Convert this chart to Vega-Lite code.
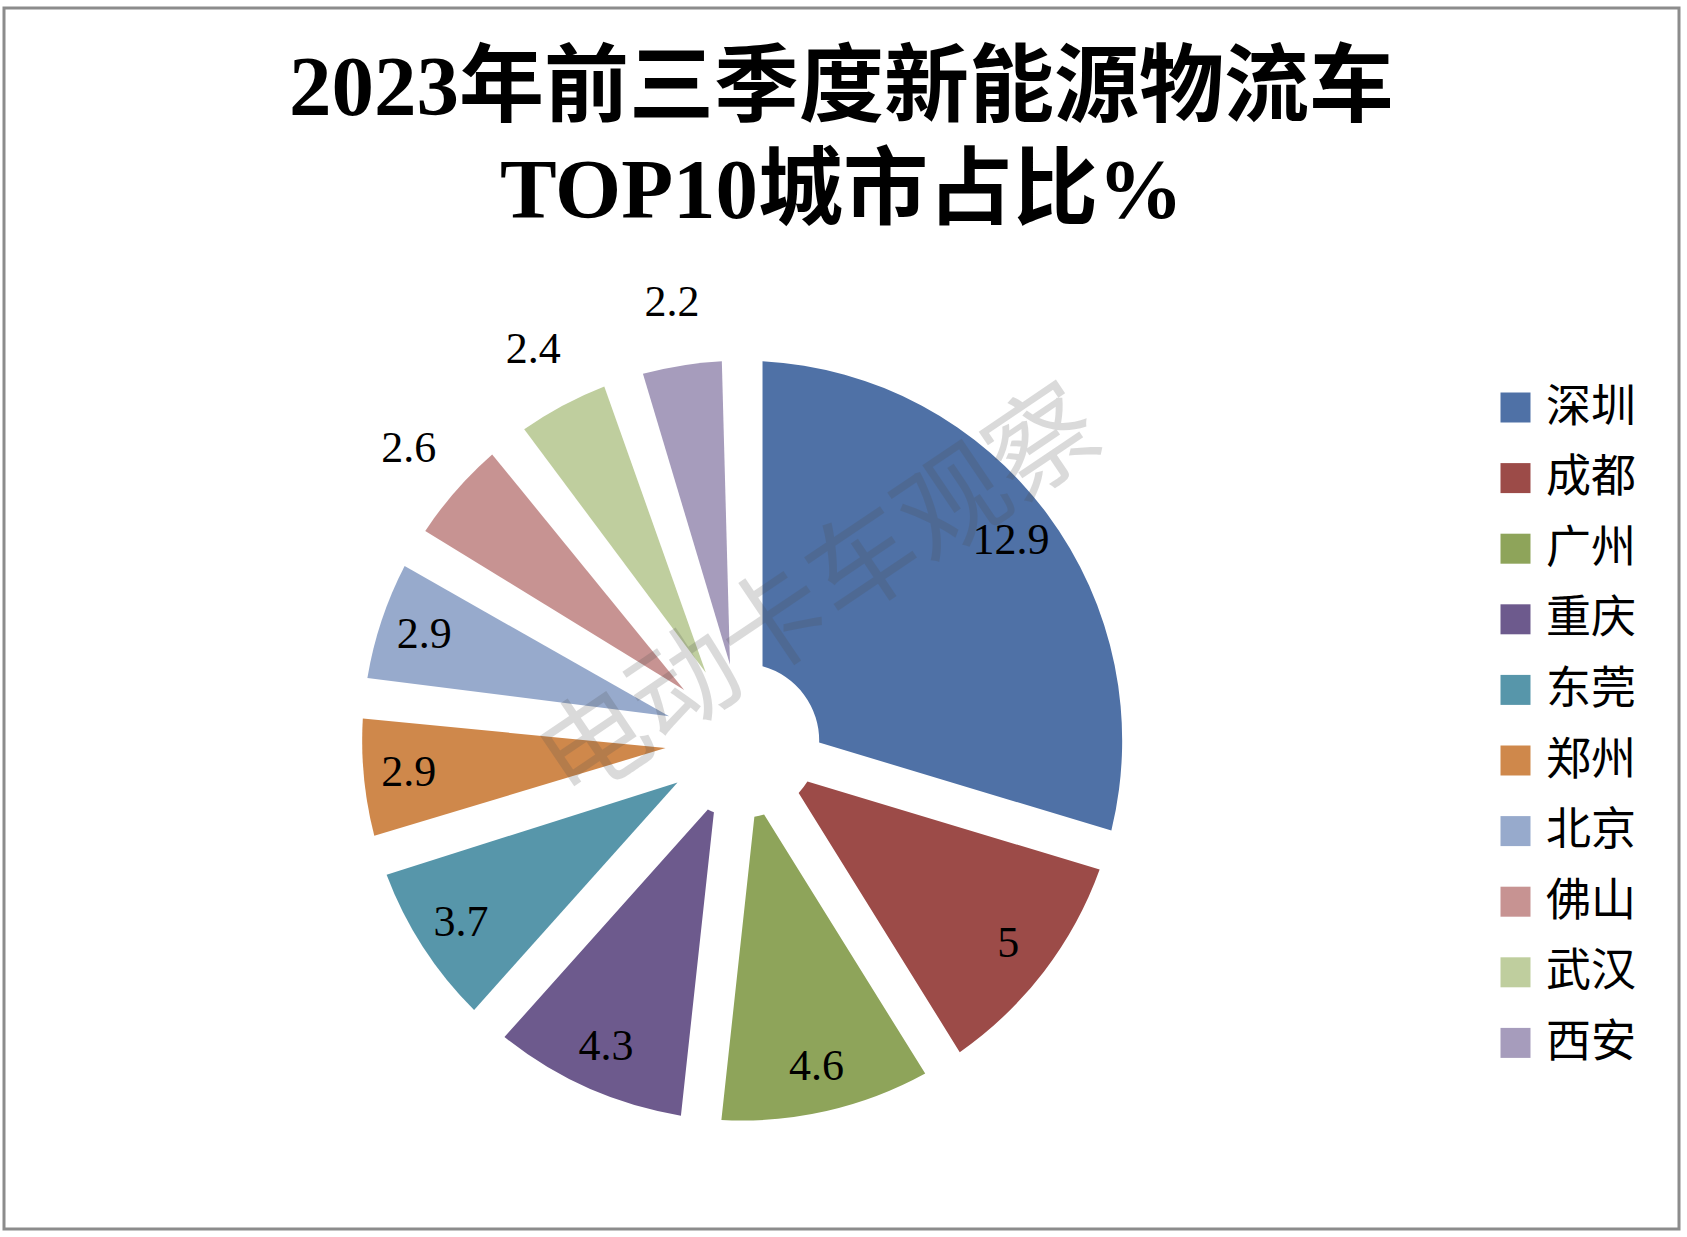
{
  "$schema": "https://vega.github.io/schema/vega-lite/v6.json",
  "width": 1687,
  "height": 1237,
  "autosize": {"type": "fit", "contains": "padding"},
  "padding": {"left": 2, "top": 6, "right": 6, "bottom": 6},
  "background": "white",
  "title": {
    "text": ["2023年前三季度新能源物流车", "TOP10城市占比%"],
    "font": "Liberation Serif, Noto Sans CJK SC",
    "fontSize": 85,
    "fontWeight": "bold",
    "color": "black",
    "lineHeight": 103,
    "anchor": "middle",
    "frame": "group",
    "offset": -229
  },
  "config": {
    "view": {"stroke": null},
    "legend": {
      "orient": "none",
      "legendX": 1489,
      "legendY": 377,
      "padding": 0,
      "symbolType": "square",
      "symbolSize": 900,
      "symbolStrokeWidth": 0,
      "labelFont": "Noto Sans CJK SC",
      "labelFontSize": 45,
      "labelColor": "black",
      "labelOffset": 8,
      "labelLimit": 0,
      "rowPadding": 24.6
    }
  },
  "data": {
    "values": [
      {"city": "深圳", "v": 12.9, "i": 1},
      {"city": "成都", "v": 5, "i": 2},
      {"city": "广州", "v": 4.6, "i": 3},
      {"city": "重庆", "v": 4.3, "i": 4},
      {"city": "东莞", "v": 3.7, "i": 5},
      {"city": "郑州", "v": 2.9, "i": 6},
      {"city": "北京", "v": 2.9, "i": 7},
      {"city": "佛山", "v": 2.6, "i": 8},
      {"city": "武汉", "v": 2.4, "i": 9},
      {"city": "西安", "v": 2.2, "i": 10}
    ]
  },
  "layer": [
    {
      "data": {"values": [{"frame": 1}]},
      "mark": {"type": "rect", "filled": false, "stroke": "#8c8c8c", "strokeWidth": 3},
      "encoding": {
        "x": {"value": 0},
        "x2": {"value": "width"},
        "y": {"value": 0},
        "y2": {"value": "height"}
      }
    },
    {
      "mark": {
        "type": "arc",
        "outerRadius": 380,
        "innerRadius": 77,
        "padAngle": 0.105,
        "x": {"expr": "width*0.4407"},
        "y": {"expr": "height*0.6"}
      },
      "encoding": {
        "theta": {"field": "v", "type": "quantitative", "stack": true},
        "order": {"field": "i", "type": "quantitative"},
        "color": {
          "field": "city",
          "type": "nominal",
          "scale": {
            "domain": ["深圳", "成都", "广州", "重庆", "东莞", "郑州", "北京", "佛山", "武汉", "西安"],
            "range": ["#4f71a6", "#9c4b48", "#8ea45a", "#6d5a8d", "#5796aa", "#cf884b", "#97aacc", "#c79392", "#bfce9e", "#a69cbc"]
          },
          "legend": {"title": null}
        }
      }
    },
    {
      "mark": {
        "type": "text",
        "radius": 335,
        "font": "Liberation Serif",
        "fontSize": 44,
        "color": "black",
        "x": {"expr": "width*0.4407"},
        "y": {"expr": "height*0.6"}
      },
      "encoding": {
        "theta": {"field": "v", "type": "quantitative", "stack": true},
        "order": {"field": "i", "type": "quantitative"},
        "text": {"condition": {"test": "datum.v < 2.7", "value": ""}, "field": "v", "type": "quantitative"}
      }
    },
    {
      "mark": {
        "type": "text",
        "radius": 443,
        "font": "Liberation Serif",
        "fontSize": 44,
        "color": "black",
        "x": {"expr": "width*0.4407"},
        "y": {"expr": "height*0.6"}
      },
      "encoding": {
        "theta": {"field": "v", "type": "quantitative", "stack": true},
        "order": {"field": "i", "type": "quantitative"},
        "text": {"condition": {"test": "datum.v >= 2.7", "value": ""}, "field": "v", "type": "quantitative"}
      }
    },
    {
      "data": {"values": [{"t": "电动卡车观察"}]},
      "mark": {
        "type": "text",
        "angle": 326,
        "font": "Noto Sans CJK SC",
        "fontSize": 108,
        "color": "#4d4d4d",
        "opacity": 0.2,
        "x": {"expr": "width*0.4880"},
        "y": {"expr": "height*0.483"}
      },
      "encoding": {"text": {"field": "t", "type": "nominal"}}
    }
  ]
}
